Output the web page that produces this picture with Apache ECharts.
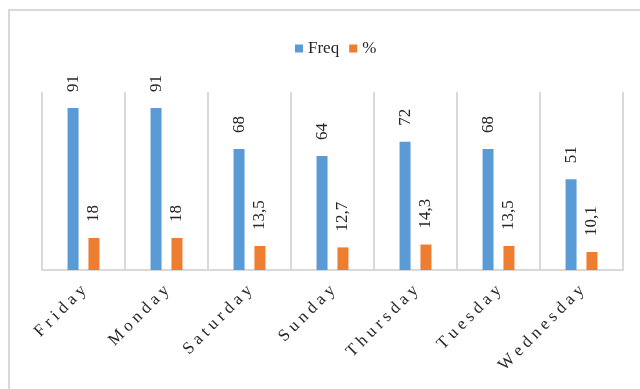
<!DOCTYPE html>
<html>
<head>
<meta charset="utf-8">
<script src="https://cdn.jsdelivr.net/npm/echarts@6/dist/echarts.min.js"></script>
<style>
  html, body { margin: 0; padding: 0; background: #fff; }
  #chart { width: 640px; height: 389px; }
</style>
</head>
<body>
<div id="chart"></div>
<script>
var days = ["Friday", "Monday", "Saturday", "Sunday", "Thursday", "Tuesday", "Wednesday"];
var freq = [91, 91, 68, 64, 72, 68, 51];
var percent = [18, 18, 13.5, 12.7, 14.3, 13.5, 10.1];

var serif = "Liberation Serif";

var chart = echarts.init(document.getElementById("chart"));

function valueLabel(p) {
    return String(p.value).replace(".", ",");
}

var labelStyle = {
    show: true,
    position: "top",
    rotate: 90,
    align: "left",
    verticalAlign: "middle",
    distance: 16,
    fontFamily: serif,
    fontSize: 17,
    color: "#262626",
    formatter: valueLabel
};

chart.setOption({
    animation: false,
    graphic: [
        {
            type: "rect",
            shape: { x: 9, y: 10, width: 700, height: 500 },
            style: { fill: null, stroke: "#d9d9d9", lineWidth: 2 },
            silent: true
        }
    ],
    legend: {
        top: 35,
        left: 290,
        itemWidth: 8,
        itemHeight: 8,
        itemGap: 10,
        icon: "rect",
        textStyle: { fontFamily: serif, fontSize: 17, color: "#262626" },
        data: ["Freq", "%"]
    },
    grid: { left: 42, right: 17, top: 92, bottom: 119 },
    xAxis: {
        type: "category",
        data: days,
        axisTick: { show: false },
        axisLine: { lineStyle: { color: "#d9d9d9", width: 2 } },
        splitLine: { show: true, interval: 0, lineStyle: { color: "#d9d9d9", width: 2 } },
        axisLabel: {
            interval: 0,
            rotate: 45,
            margin: 18,
            fontFamily: serif,
            fontSize: 17,
            color: "#262626",
            formatter: function (v) { return v.split("").join("\u2005"); }
        }
    },
    yAxis: {
        type: "value",
        min: 0,
        max: 100,
        show: false,
        splitLine: { show: false }
    },
    series: [
        {
            name: "Freq",
            type: "bar",
            data: freq,
            barWidth: 11,
            barGap: "90%",
            itemStyle: { color: "#5b9bd5" },
            label: labelStyle
        },
        {
            name: "%",
            type: "bar",
            data: percent,
            barWidth: 11,
            itemStyle: { color: "#ed7d31" },
            label: labelStyle
        }
    ]
});
</script>
</body>
</html>
